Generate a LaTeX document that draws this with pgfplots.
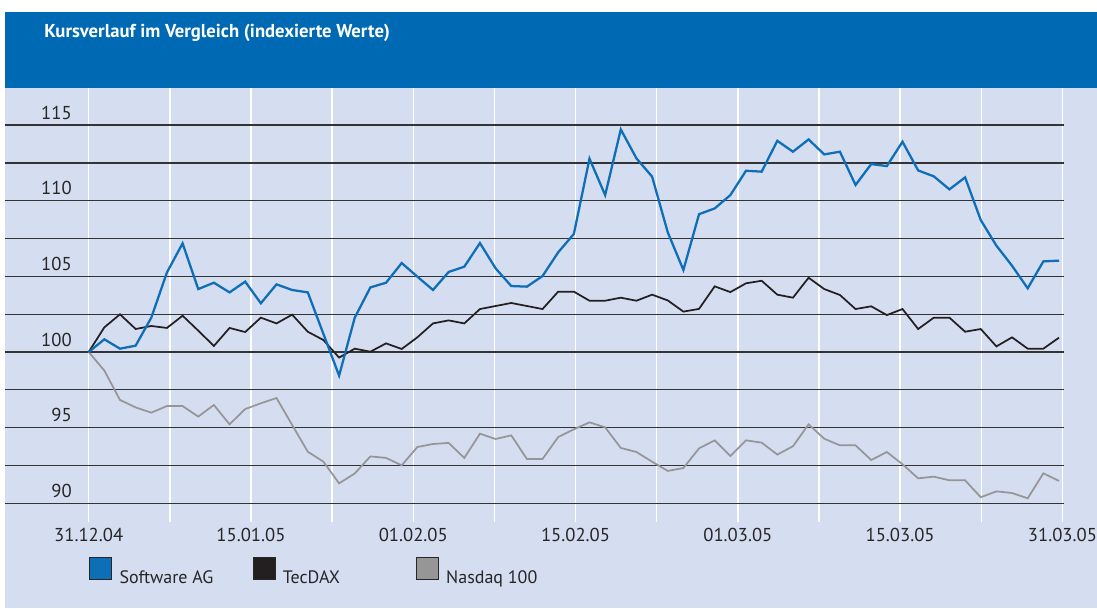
\documentclass[border=0pt]{standalone}
\usepackage{fontspec}
\setmainfont{PT Sans}
\usepackage{pgfplots}
\usepackage{pgfplotstable}
\pgfplotsset{compat=1.18}

\definecolor{hdrblue}{RGB}{0,105,180}
\definecolor{bglav}{RGB}{213,221,241}
\definecolor{swblue}{RGB}{14,110,182}
\definecolor{tecblack}{RGB}{35,31,32}
\definecolor{nasgray}{RGB}{150,150,150}

% trading days 31.12.04 - 31.03.05, indexed to 100
\pgfplotstableread{
i   sw      tec     nas
0   100.00  100.00  100.00
1   100.84  101.63  98.77
2   100.22  102.49  96.83
3   100.42  101.52  96.34
4   102.27  101.72  95.99
5   105.26  101.59  96.43
6   107.18  102.40  96.43
7   104.16  101.41  95.73
8   104.58  100.40  96.50
9   103.94  101.59  95.22
10  104.65  101.32  96.23
11  103.22  102.27  96.61
12  104.47  101.89  96.96
13  104.10  102.47  95.18
14  103.94  101.34  93.41
15  101.19  100.79  92.75
16  98.44   99.63   91.32
17  102.27  100.22  91.97
18  104.27  100.02  93.10
19  104.58  100.57  93.00
20  105.88  100.20  92.51
21  104.98  100.97  93.72
22  104.10  101.89  93.92
23  105.29  102.09  93.99
24  105.64  101.89  93.00
25  107.20  102.84  94.60
26  105.53  103.04  94.25
27  104.36  103.24  94.49
28  104.32  103.04  92.93
29  105.02  102.84  92.93
30  106.59  103.99  94.38
31  107.80  103.99  94.89
32  112.78  103.39  95.35
33  110.37  103.39  95.02
34  114.71  103.59  93.66
35  112.80  103.39  93.39
36  111.59  103.79  92.75
37  107.91  103.41  92.14
38  105.42  102.67  92.33
39  109.11  102.85  93.63
40  109.49  104.34  94.16
41  110.37  103.96  93.13
42  111.98  104.54  94.16
43  111.92  104.71  94.01
44  113.96  103.79  93.22
45  113.24  103.59  93.77
46  114.05  104.91  95.22
47  113.06  104.16  94.27
48  113.24  103.77  93.83
49  111.04  102.84  93.83
50  112.42  103.02  92.86
51  112.29  102.44  93.39
52  113.90  102.84  92.58
53  112.00  101.52  91.65
54  111.61  102.27  91.76
55  110.75  102.27  91.52
56  111.54  101.34  91.52
57  108.72  101.52  90.40
58  107.03  100.37  90.79
59  105.70  100.97  90.68
60  104.21  100.22  90.33
61  105.99  100.22  91.98
62  106.04  100.95  91.48
}\kurse

\begin{document}
\begin{tikzpicture}
\useasboundingbox (0,0) rectangle (822.75pt,456pt);
\fill[white] (0,0) rectangle (822.75pt,456pt);
\fill[bglav] (3.75pt,0) rectangle (822.75pt,390pt);
\fill[hdrblue] (3.75pt,390pt) rectangle (822.75pt,447pt);
\node[anchor=base west, inner sep=0pt, text=white, font=\fontsize{14}{16}\selectfont\bfseries]
  at (33pt,427.5pt) {Kursverlauf im Vergleich (indexierte Werte)};

\begin{axis}[
    at={(3.75pt,64.5pt)}, anchor=south west,
    scale only axis,
    width=794.25pt, height=325.5pt,
    xmin=-5.348, xmax=62.32,
    ymin=88.764, ymax=117.45,
    axis line style={draw=none},
    major tick length=0pt,
    xtick={0,5.185,10.37,15.555,20.74,25.925,31.11,36.295,41.48,46.665,51.85,57.035,62.22},
    xticklabels={31.12.04,,15.01.05,,01.02.05,,15.02.05,,01.03.05,,15.03.05,,31.03.05},
    ytick={90,92.5,...,115},
    yticklabels={90,,95,,100,,105,,110,,115},
    tick label style={font=\fontsize{14}{16}\selectfont, text=black!85},
    xticklabel style={anchor=base, inner sep=0pt, yshift=-14.5pt},
    yticklabel style={anchor=base east, inner sep=0pt, xshift=50.25pt, yshift=4.3pt},
    grid=major,
    x grid style={white, line width=1pt},
    y grid style={black!80, line width=1pt},
    legend style={at={(0.0793,-0.080)}, anchor=north west, draw=none, fill=none,
        inner sep=0pt, font=\fontsize{13.5}{15}\selectfont, text=black!85,
        nodes={inner sep=0pt}, column sep=0pt},
    legend columns=3,
    legend cell align=left,
]
\addplot[nasgray, line width=1.3pt, forget plot] table[x=i, y=nas] {\kurse};
\addplot[tecblack, line width=1.3pt, forget plot] table[x=i, y=tec] {\kurse};
\addplot[swblue, line width=1.7pt, forget plot] table[x=i, y=sw] {\kurse};

\addlegendimage{legend image code/.code={
    \filldraw[fill=swblue, draw=black!85, line width=0.7pt] (0pt,-0.75pt) rectangle (16.5pt,15.75pt);
    \path (22.2pt,0pt);}}
\addlegendentry{\makebox[99.75pt][l]{Software AG}}
\addlegendimage{legend image code/.code={
    \filldraw[fill=tecblack, draw=black!85, line width=0.7pt] (0pt,-0.75pt) rectangle (16.5pt,15.75pt);
    \path (22.2pt,0pt);}}
\addlegendentry{\makebox[99.75pt][l]{TecDAX}}
\addlegendimage{legend image code/.code={
    \filldraw[fill=nasgray, draw=black!85, line width=0.7pt] (0pt,-0.75pt) rectangle (16.5pt,15.75pt);
    \path (22.2pt,0pt);}}
\addlegendentry{\makebox[99.75pt][l]{Nasdaq 100}}
\end{axis}
\end{tikzpicture}
\end{document}
